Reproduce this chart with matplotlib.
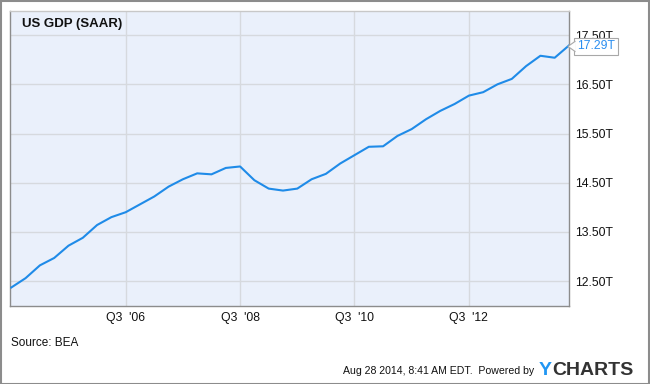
import numpy as np
import pandas as pd
import matplotlib
matplotlib.use("Agg")
import matplotlib.pyplot as plt
import matplotlib.patches as mpatches
import matplotlib.transforms as mtransforms

plt.rcParams.update({"font.family": ["Liberation Sans", "DejaVu Sans"]})

# nominal GDP, SAAR, trillions USD, 2004Q3 .. 2014Q2
quarters = pd.period_range("2004Q3", "2014Q2", freq="Q").astype(str).tolist()
gdp = [12.37, 12.56, 12.82, 12.97, 13.22, 13.38, 13.64, 13.80, 13.90, 14.06,
       14.22, 14.42, 14.57, 14.69, 14.67, 14.80, 14.83, 14.55, 14.38, 14.34,
       14.38, 14.57, 14.68, 14.89, 15.06, 15.23, 15.24, 15.45, 15.59, 15.79,
       15.96, 16.10, 16.27, 16.34, 16.50, 16.61, 16.87, 17.08, 17.04, 17.29]
tick_quarters = ["2006Q3", "2008Q3", "2010Q3", "2012Q3"]
tick_labels = ["Q3  '06", "Q3  '08", "Q3  '10", "Q3  '12"]
y_ticks = [12.5, 13.5, 14.5, 15.5, 16.5, 17.5]

LINE = "#1f8be8"
BG = "#eaf0fb"
GRID = "#d6d9de"

fig = plt.figure(figsize=(6.5, 3.84), dpi=100)
ax = fig.add_axes([10 / 650, 1 - 305.7 / 384, 559 / 650, 294.7 / 384])
ax.set_facecolor(BG)

x = np.arange(len(gdp))
ax.plot(x, gdp, color=LINE, lw=1.5, zorder=3)

ax.set_xlim(-0.09, 39.0)
ax.set_ylim(12.0, 17.99)

ax.set_xticks([quarters.index(q) for q in tick_quarters])
ax.set_xticklabels(tick_labels)
ax.set_yticks(y_ticks)
ax.set_yticklabels([f"{v:.2f}T" for v in y_ticks])
ax.yaxis.tick_right()
ax.tick_params(axis="both", length=0, labelsize=8.8, colors="#111")
ax.tick_params(axis="x", pad=4.5)
ax.tick_params(axis="y", pad=4.3)
ax.grid(True, color=GRID, lw=1)
ax.set_axisbelow(True)
for s in ax.spines.values():
    s.set_color("#8c8c8c")
    s.set_linewidth(1)
ax.spines["top"].set_color("#c8c8c8")

# lighter title band
band = mpatches.Rectangle((0, 17.5), (427 - 10) / 559, 0.49,
                          transform=ax.get_xaxis_transform(),
                          facecolor="#f4f7fd", edgecolor="none", zorder=0.5)
ax.add_patch(band)
fig.text(21.7 / 650, 1 - 24 / 384, "US GDP (SAAR)", fontsize=9.5,
         fontweight="bold", va="center", ha="left", color="#111")

# last value callout
ax.annotate(f"{gdp[-1]:.2f}T", xy=(x[-1], gdp[-1]), xytext=(8, -1),
            textcoords="offset pixels", va="center", ha="left",
            fontsize=8.8, color="#2a8ef0", annotation_clip=False, zorder=6,
            bbox=dict(boxstyle="square,pad=0.22", fc="white", ec="#a8a8a8", lw=0.8))
tip = mtransforms.ScaledTranslation(x[-1], gdp[-1], ax.transData)
tri_tr = mtransforms.Affine2D() + tip
ax.add_patch(mpatches.Polygon([(-1, -1), (6, 4), (6, -6)], closed=True,
                              transform=tri_tr, fc="white", ec="none",
                              clip_on=False, zorder=7))
ax.plot([6, -1, 6], [4, -1, -6], transform=tri_tr, color="#a8a8a8", lw=0.8,
        clip_on=False, zorder=8)

# footer
fig.text(11 / 650, 1 - 343.3 / 384, "Source: BEA", fontsize=8.5, va="center",
         ha="left", color="#111")
fig.text(534 / 650, 1 - 370.7 / 384, "Aug 28 2014, 8:41 AM EDT.  Powered by",
         fontsize=7.6, va="center", ha="right", color="#111")
fig.text(539 / 650, 1 - 370.7 / 384, "Y", fontsize=14, fontweight="bold",
         va="center", ha="left", color="#2196f3")
fig.text(552 / 650, 1 - 370.7 / 384, "CHARTS", fontsize=14, fontweight="bold",
         va="center", ha="left", color="#333333")

fig.patches.append(mpatches.Rectangle((0.5 / 650, 0.5 / 384), 648.5 / 650, 382.5 / 384,
                                      transform=fig.transFigure, fill=False,
                                      ec="#8c8c8c", lw=1.5))

fig.savefig("out.png", dpi=100, facecolor="white")
